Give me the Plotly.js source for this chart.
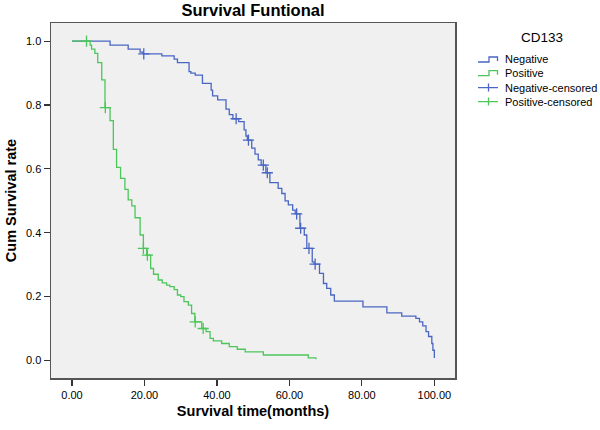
<!DOCTYPE html>
<html>
<head>
<meta charset="utf-8">
<script src="https://cdn.plot.ly/plotly-3.0.1.min.js"></script>
<style>html,body{margin:0;padding:0;background:#fff;}#chart{width:600px;height:430px;}</style>
</head>
<body>
<div id="chart"></div>
<script>
// Kaplan-Meier step data (time in months, cumulative survival after each step)
const negTime = [0, 10.5, 15.5, 18.8, 19.6, 24.8, 28.2, 29.1, 32.3, 32.8, 34.0, 36.0, 38.4, 38.8, 40.2, 42.5, 43.4, 44.4, 46.0, 47.5, 48.0, 48.4, 49.6, 50.5, 51.4, 52.2, 53.5, 54.6, 56.9, 57.9, 58.8, 59.7, 60.9, 61.6, 62.9, 64.1, 64.8, 66.3, 66.8, 68.3, 69.4, 70.3, 71.4, 72.4, 80.3, 86.9, 91.0, 94.9, 95.9, 96.8, 97.7, 98.4, 99.3, 99.6, 100.0];
const negSurv = [1.0, 0.988, 0.975, 0.966, 0.96, 0.954, 0.944, 0.933, 0.905, 0.9, 0.894, 0.868, 0.847, 0.829, 0.816, 0.787, 0.77, 0.757, 0.748, 0.722, 0.703, 0.69, 0.665, 0.646, 0.628, 0.612, 0.588, 0.557, 0.539, 0.523, 0.5, 0.487, 0.471, 0.459, 0.414, 0.393, 0.351, 0.309, 0.302, 0.273, 0.241, 0.226, 0.205, 0.186, 0.168, 0.149, 0.139, 0.132, 0.121, 0.108, 0.09, 0.075, 0.053, 0.032, 0.008];

const posTime = [0, 5.0, 5.4, 6.3, 7.1, 8.2, 9.1, 10.5, 11.4, 12.3, 13.4, 14.6, 15.5, 16.5, 17.4, 18.8, 19.7, 20.6, 21.7, 22.5, 23.8, 24.9, 26.1, 27.0, 28.2, 29.1, 30.0, 30.9, 32.1, 33.0, 33.9, 35.8, 37.0, 38.1, 39.0, 41.3, 43.4, 45.6, 47.8, 52.8, 65.2, 67.3];
const posSurv = [1.0, 0.988, 0.975, 0.962, 0.933, 0.879, 0.792, 0.751, 0.661, 0.605, 0.57, 0.536, 0.503, 0.484, 0.447, 0.393, 0.351, 0.33, 0.288, 0.27, 0.252, 0.243, 0.236, 0.231, 0.222, 0.205, 0.2, 0.184, 0.173, 0.147, 0.121, 0.1, 0.09, 0.069, 0.061, 0.053, 0.043, 0.035, 0.027, 0.017, 0.008, 0.004];

// Censored observations
const negCensTime = [19.8, 45.3, 48.7, 52.8, 53.9, 62.0, 63.1, 65.4, 67.1];
const negCensSurv = [0.96, 0.757, 0.69, 0.612, 0.588, 0.459, 0.414, 0.351, 0.302];
const posCensTime = [4.0, 9.2, 19.7, 20.8, 34.0, 36.2];
const posCensSurv = [1.0, 0.792, 0.351, 0.33, 0.121, 0.1];

const xTicks = [0, 20, 40, 60, 80, 100];
const yTicks = [0, 0.2, 0.4, 0.6, 0.8, 1.0];
const seriesNames = ['Negative', 'Positive', 'Negative-censored', 'Positive-censored'];
const legendTitle = 'CD133';

const blue = '#4a66c4';
const green = '#4cc65a';
const colors = [blue, green, blue, green];
const font = 'Arial, "Liberation Sans", sans-serif';

// plot area in pixels (for placing the hand-drawn legend)
const M = {l: 51, r: 145, t: 23, b: 52};
const W = 600, H = 430;
const pw = W - M.l - M.r, ph = H - M.t - M.b;
const px = x => (x - M.l) / pw;
const py = y => (H - M.b - y) / ph;

const traces = [
  {x: negTime, y: negSurv, name: seriesNames[0], mode: 'lines', line: {color: blue, width: 1.3, shape: 'hv'}},
  {x: posTime, y: posSurv, name: seriesNames[1], mode: 'lines', line: {color: green, width: 1.3, shape: 'hv'}},
  {x: negCensTime, y: negCensSurv, name: seriesNames[2], mode: 'markers',
   marker: {symbol: 'cross-thin-open', size: 8, color: blue, line: {color: blue, width: 1.3}}},
  {x: posCensTime, y: posCensSurv, name: seriesNames[3], mode: 'markers',
   marker: {symbol: 'cross-thin-open', size: 8, color: green, line: {color: green, width: 1.3}}}
];

// Legend built by hand (SPSS style: step icons and censor icons)
const legY = [59.5, 73.2, 87.6, 101.6];
const shapes = [];
const annotations = [];
annotations.push({xref: 'paper', yref: 'paper', x: px(541.5), y: py(37.5), xanchor: 'center', yanchor: 'middle',
  text: legendTitle, showarrow: false, font: {family: font, size: 13.5, color: '#000'}});
seriesNames.forEach((n, i) => {
  const yc = legY[i];
  annotations.push({xref: 'paper', yref: 'paper', x: px(503), y: py(yc), xanchor: 'left', yanchor: 'middle',
    text: n, showarrow: false, font: {family: font, size: 11, color: '#000'}});
  let path;
  if (i < 2) {
    path = `M ${px(478)} ${py(yc + 2.5)} L ${px(489)} ${py(yc + 2.5)} L ${px(489)} ${py(yc - 2.5)} L ${px(497.5)} ${py(yc - 2.5)} L ${px(497.5)} ${py(yc + 1.5)}`;
  } else {
    path = `M ${px(478)} ${py(yc)} L ${px(498)} ${py(yc)} M ${px(488.5)} ${py(yc - 4)} L ${px(488.5)} ${py(yc + 4)}`;
  }
  shapes.push({type: 'path', xref: 'paper', yref: 'paper', path: path, line: {color: colors[i], width: 1.3}});
});

const layout = {
  width: W, height: H,
  margin: M,
  paper_bgcolor: '#ffffff',
  plot_bgcolor: '#f0f0f0',
  font: {family: font, size: 11, color: '#000'},
  showlegend: false,
  title: {text: '<b>Survival Funtional</b>', font: {family: font, size: 16.5, color: '#000'},
          x: 0.5, xref: 'paper', xanchor: 'center', y: 1 - 10 / H, yanchor: 'middle'},
  xaxis: {
    range: [-5.8, 105.7], tickvals: xTicks, ticktext: xTicks.map(v => v.toFixed(2)),
    ticks: 'outside', ticklen: 6, tickcolor: '#333', tickwidth: 1.2,
    showline: true, linecolor: '#555', linewidth: 1.5, mirror: true,
    showgrid: false, zeroline: false,
    tickfont: {family: font, size: 11, color: '#000'},
    title: {text: '<b>Survival time(months)</b>', font: {family: font, size: 14.5, color: '#000'}, standoff: 6}
  },
  yaxis: {
    range: [-0.055, 1.057], tickvals: yTicks, ticktext: yTicks.map(v => v.toFixed(1)),
    ticks: 'outside', ticklen: 6, tickcolor: '#333', tickwidth: 1.2,
    showline: true, linecolor: '#555', linewidth: 1.5, mirror: true,
    showgrid: false, zeroline: false,
    tickfont: {family: font, size: 11, color: '#000'},
    title: {text: '<b>Cum Survival rate</b>', font: {family: font, size: 14.5, color: '#000'}, standoff: 6}
  },
  shapes: shapes,
  annotations: annotations
};

Plotly.newPlot('chart', traces, layout, {displayModeBar: false, staticPlot: true});
</script>
</body>
</html>
